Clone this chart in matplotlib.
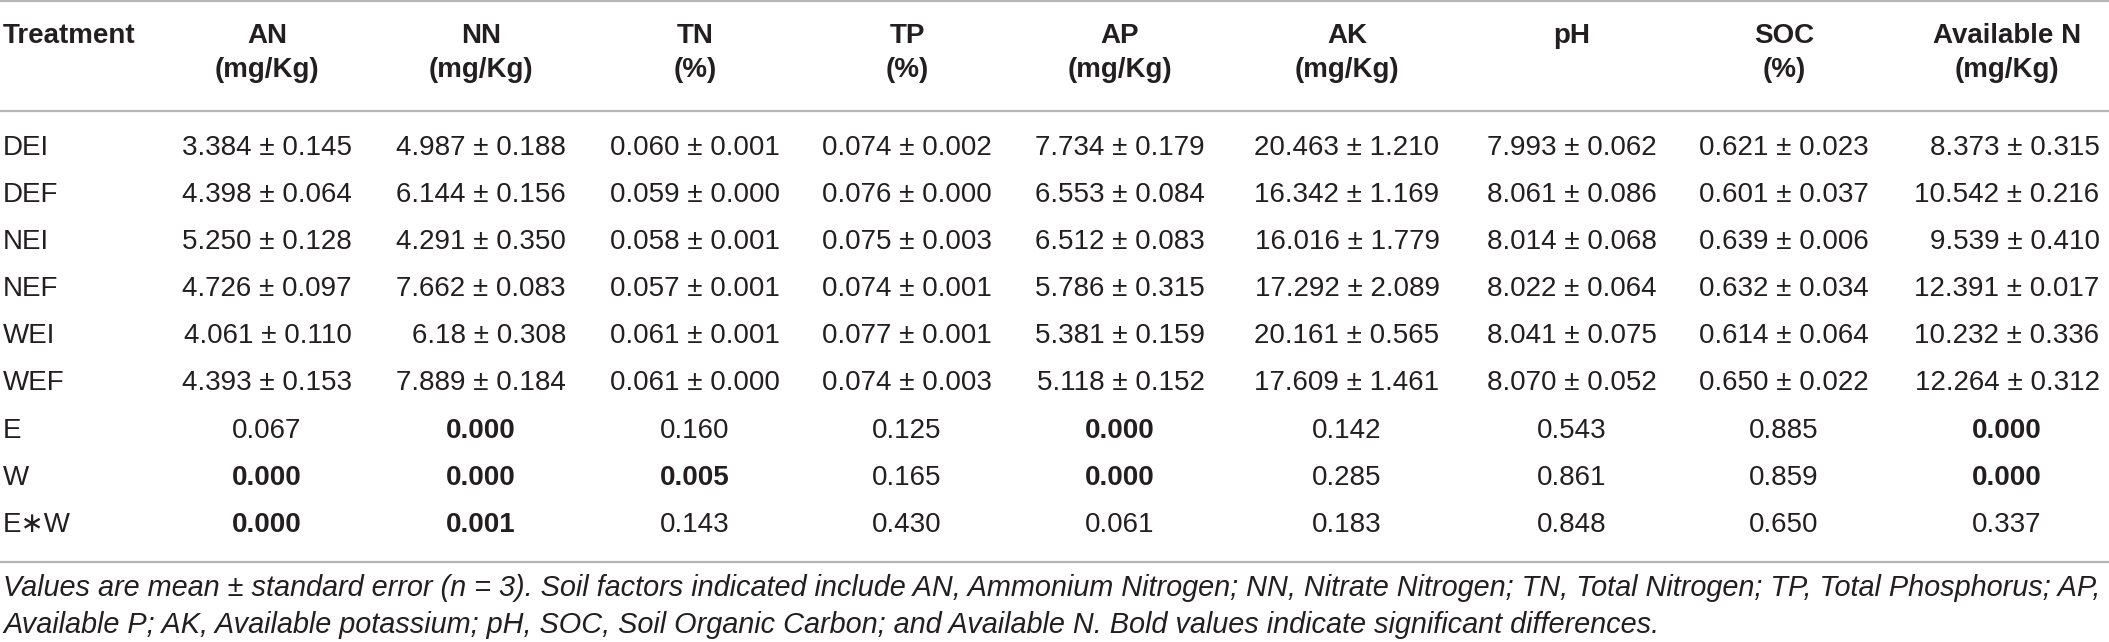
import matplotlib
matplotlib.use("Agg")
import matplotlib.pyplot as plt
from matplotlib import font_manager

# ---------------- data ----------------
columns = ["AN", "NN", "TN", "TP", "AP", "AK", "pH", "SOC", "Available N"]
units = ["(mg/Kg)", "(mg/Kg)", "(%)", "(%)", "(mg/Kg)", "(mg/Kg)", "", "(%)", "(mg/Kg)"]

treatments = ["DEI", "DEF", "NEI", "NEF", "WEI", "WEF"]
means = [
    ["3.384", "4.987", "0.060", "0.074", "7.734", "20.463", "7.993", "0.621", "8.373"],
    ["4.398", "6.144", "0.059", "0.076", "6.553", "16.342", "8.061", "0.601", "10.542"],
    ["5.250", "4.291", "0.058", "0.075", "6.512", "16.016", "8.014", "0.639", "9.539"],
    ["4.726", "7.662", "0.057", "0.074", "5.786", "17.292", "8.022", "0.632", "12.391"],
    ["4.061", "6.18", "0.061", "0.077", "5.381", "20.161", "8.041", "0.614", "10.232"],
    ["4.393", "7.889", "0.061", "0.074", "5.118", "17.609", "8.070", "0.650", "12.264"],
]
ses = [
    ["0.145", "0.188", "0.001", "0.002", "0.179", "1.210", "0.062", "0.023", "0.315"],
    ["0.064", "0.156", "0.000", "0.000", "0.084", "1.169", "0.086", "0.037", "0.216"],
    ["0.128", "0.350", "0.001", "0.003", "0.083", "1.779", "0.068", "0.006", "0.410"],
    ["0.097", "0.083", "0.001", "0.001", "0.315", "2.089", "0.064", "0.034", "0.017"],
    ["0.110", "0.308", "0.001", "0.001", "0.159", "0.565", "0.075", "0.064", "0.336"],
    ["0.153", "0.184", "0.000", "0.003", "0.152", "1.461", "0.052", "0.022", "0.312"],
]

effects = ["E", "W", "E\u2217W"]
pvalues = [
    ["0.067", "0.000", "0.160", "0.125", "0.000", "0.142", "0.543", "0.885", "0.000"],
    ["0.000", "0.000", "0.005", "0.165", "0.000", "0.285", "0.861", "0.859", "0.000"],
    ["0.000", "0.001", "0.143", "0.430", "0.061", "0.183", "0.848", "0.650", "0.337"],
]

footnote_lines = [
    "Values are mean \u00b1 standard error (n = 3). Soil factors indicated include AN, Ammonium Nitrogen; "
    "NN, Nitrate Nitrogen; TN, Total Nitrogen; TP, Total Phosphorus; AP,",
    "Available P; AK, Available potassium; pH, SOC, Soil Organic Carbon; and Available N. "
    "Bold values indicate significant differences.",
]

# ---------------- layout ----------------
W, H, DPI = 2109, 642, 100
fig = plt.figure(figsize=(W / DPI, H / DPI), dpi=DPI)
ax = fig.add_axes([0, 0, 1, 1])
ax.set_xlim(0, W)
ax.set_ylim(H, 0)
ax.axis("off")

avail = {f.name for f in font_manager.fontManager.ttflist}
base = "Liberation Sans" if "Liberation Sans" in avail else "DejaVu Sans"
narrow = "Liberation Sans Narrow" if "Liberation Sans Narrow" in avail else base
fam = [base, "DejaVu Sans"]

FS = 20
TXT = "#231f20"
LINE = "#b5b5b5"

col_x = [267, 481, 695, 907, 1120, 1347, 1572, 1784, 2007]
left_x = 3
hdr_y1, hdr_y2 = 36, 70
row_y0, row_dy = 148, 47.1

for y in (1.0, 111, 562):
    ax.plot([0, W], [y, y], color=LINE, lw=1.6, solid_capstyle="butt")

# header
ax.text(left_x, hdr_y1, "Treatment", ha="left", va="center", fontsize=FS,
        fontweight="bold", family=fam, color=TXT)
for cx, name, unit in zip(col_x, columns, units):
    ax.text(cx, hdr_y1, name, ha="center", va="center", fontsize=FS,
            fontweight="bold", family=fam, color=TXT)
    if unit:
        ax.text(cx, hdr_y2, unit, ha="center", va="center", fontsize=FS,
                fontweight="bold", family=fam, color=TXT)

renderer = fig.canvas.get_renderer()

# mean +- se rows, right-aligned within each column
for j, cx in enumerate(col_x):
    texts = []
    for i in range(len(treatments)):
        s = f"{means[i][j]} \u00b1 {ses[i][j]}"
        t = ax.text(cx, row_y0 + i * row_dy, s, ha="center", va="center",
                    fontsize=FS, family=fam, color=TXT)
        texts.append(t)
    widths = [t.get_window_extent(renderer).width for t in texts]
    right = cx + max(widths) / 2
    for t in texts:
        t.set_x(right)
        t.set_ha("right")

for i, tr in enumerate(treatments):
    ax.text(left_x, row_y0 + i * row_dy, tr, ha="left", va="center",
            fontsize=FS, family=fam, color=TXT)

# effect rows
for k, eff in enumerate(effects):
    y = row_y0 + (len(treatments) + k) * row_dy
    ax.text(left_x, y, eff, ha="left", va="center", fontsize=FS, family=fam, color=TXT)
    for j, cx in enumerate(col_x):
        p = pvalues[k][j]
        ax.text(cx, y, p, ha="center", va="center", fontsize=FS, family=fam,
                color=TXT, fontweight="bold" if float(p) < 0.05 else "normal")

# footnote, scaled so the first line spans the table width
fn_y = [588, 625]
probe = ax.text(0, 0, footnote_lines[0], fontsize=20, style="italic", family=[narrow, "DejaVu Sans"])
wpx = probe.get_window_extent(renderer).width
probe.remove()
fn_fs = 20 * (2102 - left_x) / wpx
for y, line in zip(fn_y, footnote_lines):
    ax.text(left_x, y, line, ha="left", va="center", fontsize=fn_fs, style="italic",
            family=[narrow, "DejaVu Sans"], color=TXT)

fig.savefig("out.png", dpi=DPI)
